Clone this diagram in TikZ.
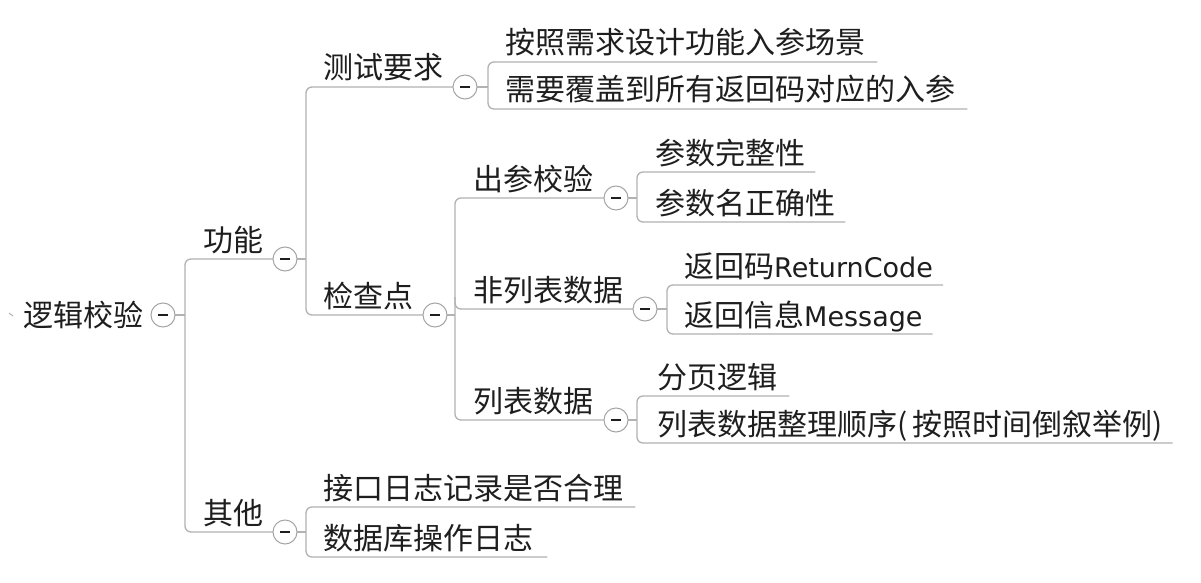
\documentclass[tikz,border=0pt]{standalone}
\usepackage{fontspec}
\setmainfont{Noto Sans CJK SC}
\newfontfamily\latfont[Scale=0.9]{DejaVu Sans}
\definecolor{lncol}{RGB}{178,178,178}
\definecolor{circol}{RGB}{165,165,165}
\definecolor{txtcol}{RGB}{30,30,30}
\tikzset{
  txt/.style={anchor=base west, inner sep=0pt, text=txtcol, font=\fontsize{30}{32}\selectfont},
  ln/.style={draw=lncol, line width=1.3pt, rounded corners=6pt},
  tog/.style={circle, draw=circol, fill=white, line width=1pt, minimum size=24pt, inner sep=0pt,
    path picture={\draw[txtcol, line width=2pt] ([xshift=-5pt]path picture bounding box.center) -- ([xshift=5pt]path picture bounding box.center);}}
}
\begin{document}
\begin{tikzpicture}[x=1pt,y=-1pt]
\useasboundingbox[fill=white] (0,0) rectangle (1201,583);

% texts
\node[txt] (t0) at (23,326) {逻辑校验};
\node[txt] (t1) at (203,251) {功能};
\node[txt] (t2) at (323,79) {测试要求};
\node[txt] (t21) at (505,54) {按照需求设计功能入参场景};
\node[txt] (t22) at (505,101) {需要覆盖到所有返回码对应的入参};
\node[txt] (t3) at (323,307) {检查点};
\node[txt] (t4) at (473,190) {出参校验};
\node[txt] (t41) at (655,164) {参数完整性};
\node[txt] (t42) at (655,214) {参数名正确性};
\node[txt] (t5) at (473,301) {非列表数据};
\node[txt] (t51) at (684,277) {返回码{\latfont ReturnCode}};
\node[txt] (t52) at (684,326) {返回信息{\latfont Message}};
\node[txt] (t6) at (473,412) {列表数据};
\node[txt] (t61) at (657,388) {分页逻辑};
\node[txt] (t62) at (657,435) {列表数据整理顺序(\,按照时间倒叙举例)};
\node[txt] (t7) at (203,524) {其他};
\node[txt] (t71) at (323,499) {接口日志记录是否合理};
\node[txt] (t72) at (323,549) {数据库操作日志};

% bracket corners
\coordinate (v0a) at (185,259); \coordinate (v0b) at (185,532);
\coordinate (v1a) at (306,87);  \coordinate (v1b) at (306,315);
\coordinate (v2a) at (488,62);  \coordinate (v2b) at (488,109);
\coordinate (v3a) at (455,198); \coordinate (v3m) at (455,309); \coordinate (v3b) at (455,420);
\coordinate (v4a) at (637,172); \coordinate (v4b) at (637,222);
\coordinate (v5a) at (667,285); \coordinate (v5b) at (667,334);
\coordinate (v6a) at (637,396); \coordinate (v6b) at (637,443);
\coordinate (v7a) at (306,507); \coordinate (v7b) at (306,557);

% toggles (positions)
\coordinate (p0) at (163,315);
\coordinate (p1) at (285,259);
\coordinate (p2) at (465,87);
\coordinate (p3) at (435,315);
\coordinate (p4) at (616,198);
\coordinate (p5) at (645,309);
\coordinate (p6) at (616,420);
\coordinate (p7) at (285,532);

% brackets and underlines
\draw[ln] (p1) -- (v0a) -- (v0b) -- (p7);
\draw[ln] (p2) -- (v1a) -- (v1b) -- (p3);
\draw[ln] ([xshift=12pt]t21.east |- v2a) -- (v2a) -- (v2b) -- ([xshift=12pt]t22.east |- v2b);
\draw[ln] (p4) -- (v3a) -- (v3b) -- (p6);
\draw[ln] ([yshift=12pt]v3m) |- (p5);
\draw[ln] ([xshift=10pt]t41.east |- v4a) -- (v4a) -- (v4b) -- ([xshift=10pt]t42.east |- v4b);
\draw[ln] ([xshift=10pt]t51.east |- v5a) -- (v5a) -- (v5b) -- ([xshift=10pt]t52.east |- v5b);
\draw[ln] ([xshift=12pt]t61.east |- v6a) -- (v6a) -- (v6b) -- ([xshift=10pt]t62.east |- v6b);
\draw[ln] ([xshift=12pt]t71.east |- v7a) -- (v7a) -- (v7b) -- ([xshift=14pt]t72.east |- v7b);

% parent stubs
\draw[ln] (p0) -- (p0 -| v0a);
\draw[ln] (p1) -- (p1 -| v1a);
\draw[ln] (p2) -- (p2 -| v2a);
\draw[ln] (p3) -- (p3 -| v3a);
\draw[ln] (p4) -- (p4 -| v4a);
\draw[ln] (p5) -- (p5 -| v5a);
\draw[ln] (p6) -- (p6 -| v6a);
\draw[ln] (p7) -- (p7 -| v7a);

% toggle circles
\node[tog] (c0) at (p0) {};
\node[tog] (c1) at (p1) {};
\node[tog] (c2) at (p2) {};
\node[tog] (c3) at (p3) {};
\node[tog] (c4) at (p4) {};
\node[tog] (c5) at (p5) {};
\node[tog] (c6) at (p6) {};
\node[tog] (c7) at (p7) {};

% small tick left of root
\coordinate (k0) at (9,313);
\draw[lncol, line width=1pt] (k0) -- ++(4,3);
\end{tikzpicture}
\end{document}
